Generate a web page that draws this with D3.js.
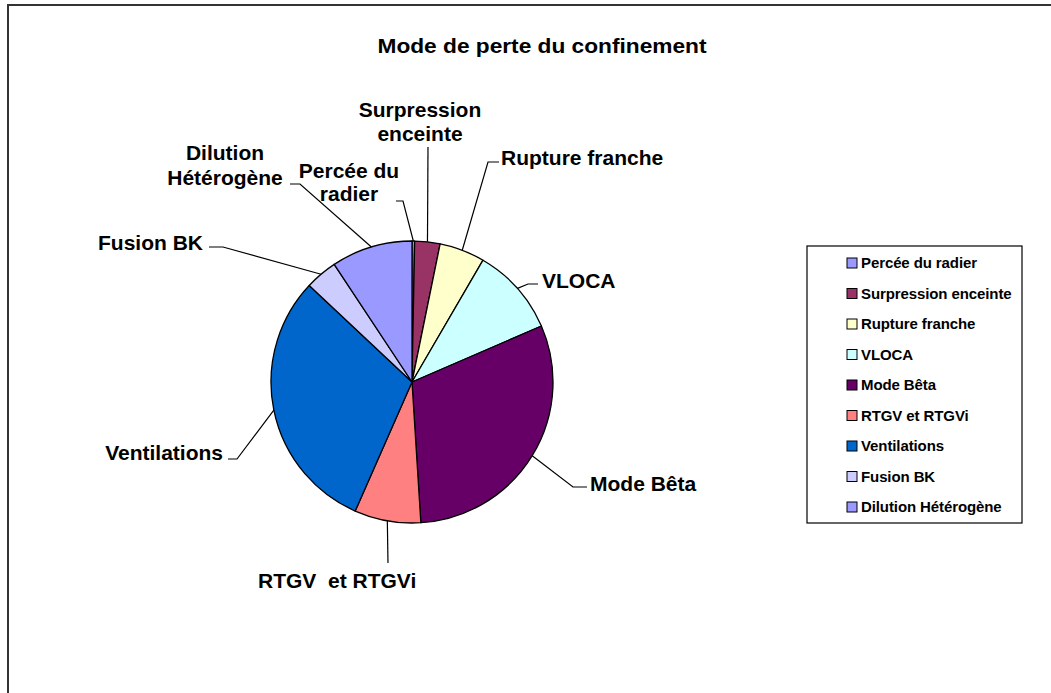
<!DOCTYPE html>
<html>
<head>
<meta charset="utf-8">
<script src="https://cdn.jsdelivr.net/npm/d3@7/dist/d3.min.js"></script>
<style>
  html, body { margin: 0; padding: 0; background: #fff; }
  svg { display: block; font-family: "Liberation Sans", Arial, sans-serif; }
</style>
</head>
<body>
<svg id="chart" width="1051" height="693"></svg>
<script>
// ---- data ----
const categories = ["Percée du radier", "Surpression enceinte", "Rupture franche", "VLOCA", "Mode Bêta",
                    "RTGV et RTGVi", "Ventilations", "Fusion BK", "Dilution Hétérogène"];
const values = [0.3, 2.9, 5.2, 10.1, 30.5, 7.6, 30.4, 3.7, 9.3];
const colors = ["#9999FF", "#993366", "#FFFFCC", "#CCFFFF", "#660066", "#FF8080", "#0066CC", "#CCCCFF", "#9999FF"];
const labelLines = [["Percée du", "radier"], ["Surpression", "enceinte"], ["Rupture franche"], ["VLOCA"], ["Mode Bêta"],
                    ["RTGV  et RTGVi"], ["Ventilations"], ["Fusion BK"], ["Dilution", "Hétérogène"]];
const title = "Mode de perte du confinement";

// ---- layout ----
const svg = d3.select("#chart");
const cx = 412, cy = 382, R = 141;

// frame
svg.append("rect").attr("x", 8).attr("y", 5).attr("width", 1200).attr("height", 900)
  .attr("fill", "#fff").attr("stroke", "#333").attr("stroke-width", 2);

// title
svg.append("text").attr("x", 542).attr("y", 53).attr("text-anchor", "middle")
  .attr("font-size", 20).attr("font-weight", "bold").attr("fill", "#000")
  .attr("textLength", 329).attr("lengthAdjust", "spacingAndGlyphs")
  .text(title);

const data = categories.map((c, i) => ({ name: c, value: values[i], color: colors[i], lines: labelLines[i] }));
const pie = d3.pie().value(d => d.value).sort(null);
const arcs = pie(data);
const arc = d3.arc().innerRadius(0).outerRadius(R);
const edge = d3.arc().innerRadius(R).outerRadius(R);

const g = svg.append("g").attr("transform", `translate(${cx},${cy})`);
g.selectAll("path.slice").data(arcs).enter().append("path")
  .attr("class", "slice")
  .attr("d", arc)
  .attr("fill", d => d.data.color)
  .attr("stroke", "#000").attr("stroke-width", 1.3).attr("stroke-linejoin", "round");

// label placement (text anchor, baseline of first line, line height, leader start/elbow)
const labelLayout = [
  { x: 349, y: 178, anchor: "middle", lh: 23, leader: [[396, 201], [403, 201]] },
  { x: 420, y: 117, anchor: "middle", lh: 24, leader: [[428, 147]] },
  { x: 501, y: 165, anchor: "start",  lh: 24, leader: [[499, 162], [488, 162]] },
  { x: 542, y: 288, anchor: "start",  lh: 24, leader: [[538, 284], [528, 284]] },
  { x: 590, y: 491, anchor: "start",  lh: 24, leader: [[587, 487], [573, 487]] },
  { x: 258, y: 588, anchor: "start",  lh: 24, leader: [[388, 563]] },
  { x: 223, y: 460, anchor: "end",    lh: 24, leader: [[228, 459], [237, 459]] },
  { x: 203, y: 250, anchor: "end",    lh: 24, leader: [[209, 247], [223, 247]] },
  { x: 225, y: 160, anchor: "middle", lh: 25, leader: [[290, 184], [300, 184]] }
];

const line = d3.line();
arcs.forEach((a, i) => {
  const L = labelLayout[i];
  const c = edge.centroid(a);
  const pts = L.leader.concat([[c[0] + cx, c[1] + cy]]);
  svg.append("path").attr("d", line(pts)).attr("fill", "none")
    .attr("stroke", "#000").attr("stroke-width", 1.2);
  const t = svg.append("text").attr("x", L.x).attr("y", L.y)
    .attr("text-anchor", L.anchor).attr("font-size", 21).attr("font-weight", "bold")
    .attr("fill", "#000").style("white-space", "pre");
  a.data.lines.forEach((s, k) => {
    t.append("tspan").attr("x", L.x).attr("y", L.y + k * L.lh).text(s);
  });
});

// legend
const lx = 807, ly = 246, lw = 215, lh = 277;
svg.append("rect").attr("x", lx).attr("y", ly).attr("width", lw).attr("height", lh)
  .attr("fill", "#fff").attr("stroke", "#000").attr("stroke-width", 1.2);
const rowY = d3.scalePoint().domain(categories).range([263, 507]);
const leg = svg.append("g");
categories.forEach((c, i) => {
  const y = rowY(c);
  leg.append("rect").attr("x", 847).attr("y", y - 5).attr("width", 10).attr("height", 10)
    .attr("fill", colors[i]).attr("stroke", "#000").attr("stroke-width", 1);
  leg.append("text").attr("x", 861).attr("y", y + 5)
    .attr("font-size", 15).attr("font-weight", "bold").attr("letter-spacing", -0.1)
    .attr("fill", "#000").text(c);
});
</script>
</body>
</html>
